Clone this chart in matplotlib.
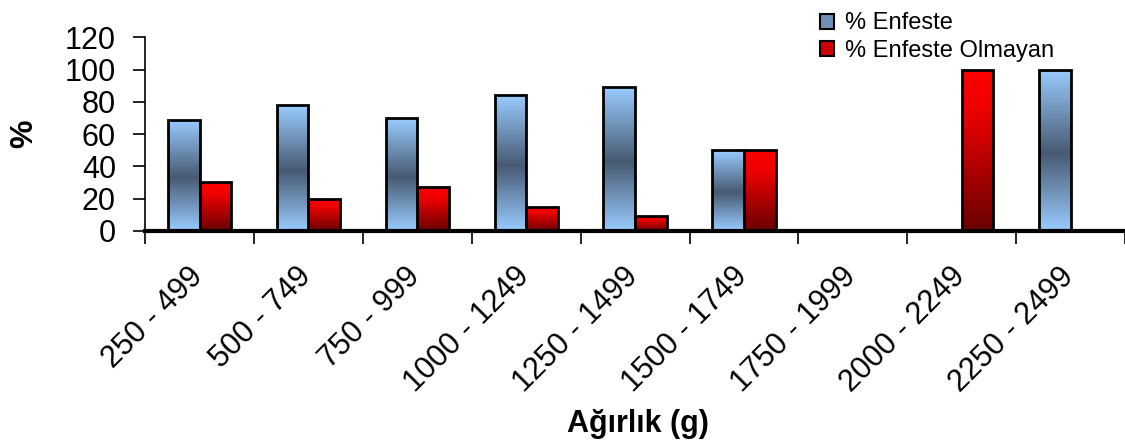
import matplotlib
matplotlib.use('Agg')
import matplotlib.pyplot as plt
import matplotlib.transforms as mtransforms
import numpy as np
from matplotlib.colors import LinearSegmentedColormap
from matplotlib.patches import Patch

plt.rcParams['font.family'] = ['Liberation Sans', 'DejaVu Sans']

# data
categories = ['250 - 499', '500 - 749', '750 - 999', '1000 - 1249', '1250 - 1499',
              '1500 - 1749', '1750 - 1999', '2000 - 2249', '2250 - 2499']
enfeste = [69, 78, 70, 84, 89, 50, 0, 0, 100]
enfeste_olmayan = [30, 20, 27, 15, 9, 50, 0, 100, 0]

# gradients (top -> bottom)
blue_cmap = LinearSegmentedColormap.from_list(
    'bl', [(0.0, '#99ccff'), (0.52, '#475a72'), (1.0, '#99ccff')])
red_cmap = LinearSegmentedColormap.from_list(
    'rd', [(0.0, '#ff0000'), (0.25, '#ee0000'), (1.0, '#6a0000')])

fig = plt.figure(figsize=(11.25, 4.44), dpi=100)
ax = fig.add_axes([0.129, 0.48, 0.871, 0.436])

x = np.arange(len(categories))
w = 0.29
grad = np.linspace(0, 1, 256).reshape(-1, 1)


def gradient_bars(xs, vals, cmap):
    bars = ax.bar(xs, vals, w, facecolor='none', edgecolor='black', linewidth=2, zorder=3)
    for b in bars:
        h = b.get_height()
        if h <= 0:
            continue
        x0 = b.get_x()
        im = ax.imshow(grad, cmap=cmap, aspect='auto', extent=[x0, x0 + w, 0, h],
                       origin='upper', zorder=2, interpolation='bilinear')
        im.set_clip_path(b)
    return bars


gradient_bars(x - w / 2, enfeste, blue_cmap)
gradient_bars(x + w / 2, enfeste_olmayan, red_cmap)

ax.set_xlim(-0.5, len(categories) - 0.5)
ax.set_ylim(0, 120)
ax.set_yticks(range(0, 121, 20))
ax.tick_params(axis='y', labelsize=22, direction='out', length=9, width=1.2, pad=12)

ax.set_xticks(x)
ax.set_xticklabels(categories, rotation=45, ha='right', va='top',
                   rotation_mode='anchor', fontsize=22)
ax.tick_params(axis='x', length=0, pad=20)
shift = mtransforms.ScaledTranslation(-0.12, -0.03, fig.dpi_scale_trans)
for lbl in ax.get_xticklabels():
    lbl.set_transform(lbl.get_transform() + shift)
ax.set_xticks(np.arange(-0.5, len(categories) + 0.5, 1), minor=True)
ax.tick_params(axis='x', which='minor', length=9, width=1.2, direction='out')

for s in ['top', 'right']:
    ax.spines[s].set_visible(False)
ax.spines['left'].set_linewidth(1.2)
ax.spines['bottom'].set_linewidth(3)

ax.set_ylabel('%', fontsize=23, fontweight='bold', labelpad=18)
fig.text(0.567, 0.027, 'Ağırlık (g)', fontsize=22, fontweight='bold',
         ha='center', va='baseline')

handles = [Patch(facecolor='#6f8fb5', edgecolor='black', linewidth=1.5),
           Patch(facecolor='#cc0000', edgecolor='black', linewidth=1.5)]
fig.legend(handles, ['% Enfeste', '% Enfeste Olmayan'], loc='upper left',
           bbox_to_anchor=(0.71, 1.02), frameon=False, fontsize=17,
           handlelength=0.6, handleheight=0.6, handletextpad=0.45, labelspacing=0.25)

fig.savefig('out.png', dpi=100)
